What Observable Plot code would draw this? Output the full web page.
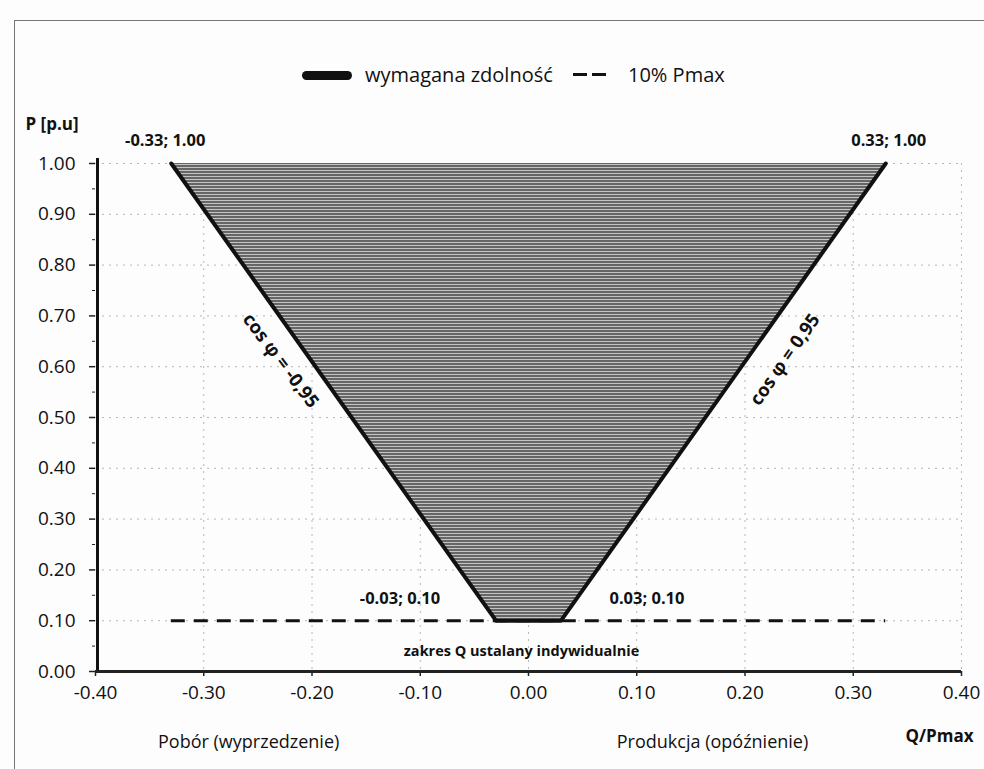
<!DOCTYPE html>
<html><head><meta charset="utf-8">
<script src="https://cdn.jsdelivr.net/npm/d3@7"></script>
<script src="https://cdn.jsdelivr.net/npm/@observablehq/plot@0.6"></script>
<style>
body{margin:0;background:#fdfdfd;font-family:"Open Sans",Lato,sans-serif;}
#wrap{position:relative;width:984px;height:769px;overflow:hidden;background:#fdfdfd;}
#frame{position:absolute;left:14px;top:20px;width:980px;height:760px;border:1.5px solid #777;box-sizing:border-box;}
#legend{position:absolute;top:62px;left:0;width:984px;height:26px;z-index:2;}
#legend .sw1{position:absolute;left:302px;top:9px;width:50px;height:9px;background:#111;border-radius:4.5px;}
#legend .d{position:absolute;top:11px;width:14px;height:3px;background:#111;}
#legend .t{position:absolute;top:0;font-size:20px;line-height:26px;color:#111;white-space:nowrap;}
svg{position:absolute;left:0;top:0;}
</style></head>
<body><div id="wrap"><div id="frame"></div>
<div id="legend"><div class="sw1"></div><span class="t" style="left:365px">wymagana zdolność</span><div class="d" style="left:573px"></div><div class="d" style="left:592px"></div><span class="t" style="left:628px">10% Pmax</span></div>
</div>
<script>
// data
const qVals = [-0.33, -0.03, 0.03, 0.33];
const pVals = [1.00, 0.10, 0.10, 1.00];
const dashQ = [-0.33, 0.33];
const dashP = 0.10;
const xTicks = [-0.4, -0.3, -0.2, -0.1, 0, 0.1, 0.2, 0.3, 0.4];
const yTicks = [0, 0.1, 0.2, 0.3, 0.4, 0.5, 0.6, 0.7, 0.8, 0.9, 1.0];
const yMinor = [0.05, 0.15, 0.25, 0.35, 0.45, 0.55, 0.65, 0.75, 0.85, 0.95];
const pointText = ["-0.33; 1.00", "-0.03; 0.10", "0.03; 0.10", "0.33; 1.00"];
const pts = qVals.map((q, i) => ({q, p: pVals[i], text: pointText[i]}));

const fmt = d => d.toFixed(2);
const font = "'Open Sans', Lato, sans-serif";
const lbl = (i, dx, dy) => Plot.text([pts[i]], {x: "q", y: "p", text: "text", dx, dy, fontSize: 16.5, fontWeight: "bold", fill: "#111"});

const chart = Plot.plot({
  width: 984, height: 769,
  marginLeft: 95, marginRight: 23, marginTop: 163, marginBottom: 98,
  style: {fontFamily: font, background: "transparent", color: "#111"},
  x: {domain: [-0.4, 0.4]},
  y: {domain: [0, 1]},
  marks: [
    Plot.gridX(xTicks.slice(1), {stroke: "#999", strokeOpacity: 0.7, strokeDasharray: "2,5"}),
    Plot.gridY(yTicks.slice(1), {stroke: "#999", strokeOpacity: 0.7, strokeDasharray: "2,5"}),
    Plot.areaY(pts, {x: "q", y1: "p", y2: 1, fill: "url(#hatch)"}),
    Plot.line(pts, {x: "q", y: "p", stroke: "#111", strokeWidth: 4, strokeLinecap: "round", strokeLinejoin: "round"}),
    Plot.ruleY([dashP], {x1: dashQ[0], x2: dashQ[1], stroke: "#111", strokeWidth: 3, strokeDasharray: "14,9"}),
    Plot.axisX(xTicks, {tickFormat: fmt, tickSize: 5, tickPadding: 9, fontSize: 19, stroke: "#222", strokeWidth: 1.5, label: null}),
    Plot.axisY(yTicks, {tickFormat: fmt, tickSize: 6, tickPadding: 14, fontSize: 19, stroke: "#222", strokeWidth: 1.5, label: null}),
    Plot.axisY(yMinor, {tickFormat: null, text: null, tickSize: 3, stroke: "#222", label: null}),
    Plot.ruleX([-0.4], {y1: 0, y2: 1.01, stroke: "#111", strokeWidth: 3, dx: 2}),
    Plot.ruleY([0], {x1: -0.4, x2: 0.4, stroke: "#222", strokeWidth: 3}),
    lbl(0, -6, -23),
    lbl(1, -96, -22),
    lbl(2, 86, -22),
    lbl(3, 3, -23),
    Plot.text(["zakres Q ustalany indywidualnie"], {x: [0], y: [0.04], text: d => d, dx: -7, fontSize: 14.5, fontWeight: "bold", fill: "#111"}),
    Plot.text(["cos φ = -0,95"], {x: [-0.229], y: [0.612], text: d => d, rotate: 53, fontSize: 18.5, fontWeight: "bold", fill: "#111"}),
    Plot.text(["cos φ = 0,95"], {x: [0.237], y: [0.614], text: d => d, rotate: -55, fontSize: 18.5, fontWeight: "bold", fill: "#111"}),
    Plot.text(["P [p.u]"], {frameAnchor: "top-left", dx: -70, dy: -46, text: d => d, fontSize: 17, fontWeight: "bold", textAnchor: "start", fill: "#111"}),
    Plot.text(["Q/Pmax"], {frameAnchor: "bottom-right", dx: -22, dy: 70, text: d => d, fontSize: 17, fontWeight: "bold", textAnchor: "middle", fill: "#111"}),
    Plot.text(["Pobór (wyprzedzenie)"], {x: [-0.2585], frameAnchor: "bottom", dy: 76, text: d => d, fontSize: 18, fill: "#111"}),
    Plot.text(["Produkcja (opóźnienie)"], {x: [0.17], frameAnchor: "bottom", dy: 76, text: d => d, fontSize: 18, fill: "#111"})
  ]
});

// hatch pattern for fill
const defs = document.createElementNS("http://www.w3.org/2000/svg", "defs");
defs.innerHTML = `<pattern id="hatch" width="6" height="3" patternUnits="userSpaceOnUse">
<rect width="6" height="3" fill="#c4c4c4"/><rect width="6" height="2" fill="#666"/></pattern>`;
chart.insertBefore(defs, chart.firstChild);
document.getElementById("wrap").appendChild(chart);
</script>
</body></html>
